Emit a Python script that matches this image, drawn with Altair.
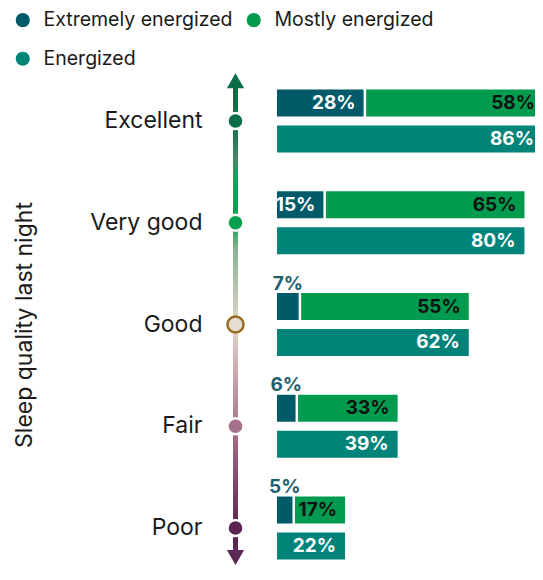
import altair as alt
import pandas as pd

categories = ["Excellent", "Very good", "Good", "Fair", "Poor"]
extremely = [28, 15, 7, 6, 5]
mostly = [58, 65, 55, 33, 17]
energized = [86, 80, 62, 39, 22]
series = ["Extremely energized", "Mostly energized", "Energized"]
series_colors = ["#005A68", "#009B4E", "#00847A"]

dot_fill = ["#0B6E46", "#08A04F", "#E6DCD2", "#A8718B", "#5D2350"]
dot_stroke = ["white", "white", "#9A6B22", "white", "white"]

rows = []
for c, e, m, t in zip(categories, extremely, mostly, energized):
    rows.append(dict(cat=c, series=series[0], row="top", value=e, start=0, end=e))
    rows.append(dict(cat=c, series=series[1], row="top", value=m, start=e, end=e + m))
    rows.append(dict(cat=c, series=series[2], row="bottom", value=t, start=0, end=t))
df = pd.DataFrame(rows)
df["label"] = df["value"].astype(str) + "%"
df["mid"] = (df["start"] + df["end"]) / 2

dots = pd.DataFrame({"cat": categories, "fill": dot_fill, "stroke": dot_stroke})
one = pd.DataFrame({"k": [0]})

FONT = "Inter"
W, H = 258, 493          # visible plot box (page clips here)
XR, YR = 266, 503        # scale ranges
LINE_X = -41.5

yscale = alt.Scale(domain=categories, paddingInner=0.381, paddingOuter=0.162, range=[0, YR])
yaxis = alt.Axis(domain=False, ticks=False, grid=False, labelPadding=75, labelFontSize=23,
                 labelColor="#1a1a1a", labelFont=FONT, labelLimit=300,
                 titleFontSize=23, titleFontWeight="normal", titleColor="#1a1a1a",
                 titleFont=FONT, titlePadding=53)
Y = alt.Y("cat:N", scale=yscale, axis=yaxis, title="Sleep quality last night")
YOFF = alt.YOffset("row:N", scale=alt.Scale(domain=["top", "bottom"], paddingInner=0.25, paddingOuter=0))
xs = alt.Scale(domain=[0, 86], nice=False, zero=True, range=[0, XR])

color = alt.Color("series:N", scale=alt.Scale(domain=series, range=series_colors),
                  legend=alt.Legend(orient="none", legendX=-264, legendY=-63, columns=2,
                                    direction="horizontal",
                                    symbolType="circle", symbolSize=200, symbolStrokeWidth=0,
                                    labelFontSize=19.5, labelFont=FONT, labelColor="#1a1a1a",
                                    columnPadding=11, rowPadding=18, labelOffset=11,
                                    title=None, padding=0, labelLimit=400))

base = alt.Chart(df)

def X(f):
    return alt.X(f, scale=xs, axis=None)

bars_main = base.transform_filter(alt.datum.series != series[1]).mark_bar().encode(
    x=X("start:Q"), x2="end:Q", y=Y, yOffset=YOFF, color=color)
bars_mostly = base.transform_filter(alt.datum.series == series[1]).mark_bar(xOffset=2.5).encode(
    x=X("start:Q"), x2="end:Q", y=Y, yOffset=YOFF, color=color)

txt = dict(fontSize=19, fontWeight="bold", font=FONT)
ext_in = base.transform_filter((alt.datum.series == series[0]) & (alt.datum.value >= 10)).mark_text(
    align="right", baseline="middle", dx=-8, color="white", **txt).encode(
    x=X("end:Q"), y=Y, yOffset=YOFF, text="label:N")
ext_above = base.transform_filter((alt.datum.series == series[0]) & (alt.datum.value < 10)).mark_text(
    align="center", baseline="bottom", dy=-13, color="#1D5F6E", **txt).encode(
    x=X("mid:Q"), y=Y, yOffset=YOFF, text="label:N")
mostly_txt = base.transform_filter(alt.datum.series == series[1]).mark_text(
    align="right", baseline="middle", dx=-8, color="#111111", **txt).encode(
    x=X("end:Q"), y=Y, yOffset=YOFF, text="label:N")
en_txt = base.transform_filter(alt.datum.series == series[2]).mark_text(
    align="right", baseline="middle", dx=-9, color="white", **txt).encode(
    x=X("end:Q"), y=Y, yOffset=YOFF, text="label:N")

grad = alt.Gradient(gradient="linear", x1=0, y1=0, x2=0, y2=1, stops=[
    alt.GradientStop(offset=0.0, color="#0B6E46"),
    alt.GradientStop(offset=0.081, color="#0B6E46"),
    alt.GradientStop(offset=0.163, color="#4A8868"),
    alt.GradientStop(offset=0.201, color="#14A259"),
    alt.GradientStop(offset=0.294, color="#08A04F"),
    alt.GradientStop(offset=0.350, color="#86B28F"),
    alt.GradientStop(offset=0.513, color="#E4D7CB"),
    alt.GradientStop(offset=0.735, color="#A8718B"),
    alt.GradientStop(offset=0.943, color="#5D2350"),
    alt.GradientStop(offset=1.0, color="#5B2A54"),
])
line = alt.Chart(one).mark_rect(fill=grad).encode(
    x=alt.value(LINE_X - 2.5), x2=alt.value(LINE_X + 2.5), y=alt.value(10), y2=alt.value(482))
arrow_up = alt.Chart(one).mark_point(shape="triangle-up", filled=True, size=300, opacity=1,
                                     color="#0B6E46").encode(x=alt.value(LINE_X), y=alt.value(7.7))
arrow_dn = alt.Chart(one).mark_point(shape="triangle-down", filled=True, size=300, opacity=1,
                                     color="#5B2A54").encode(x=alt.value(LINE_X), y=alt.value(484.6))
dot_layer = alt.Chart(dots).mark_point(shape="circle", filled=True, size=260, strokeWidth=2.5,
                                       opacity=1).encode(
    x=alt.value(LINE_X), y=Y,
    fill=alt.Fill("fill:N", scale=None), stroke=alt.Stroke("stroke:N", scale=None))

chart = alt.layer(line, arrow_up, arrow_dn, dot_layer, bars_main, bars_mostly,
                  ext_in, ext_above, mostly_txt, en_txt).properties(
    width=W, height=H, autosize="none",
    padding={"left": 269, "top": 65, "right": 0, "bottom": 0}
).configure(font=FONT).configure_view(strokeWidth=0, stroke=None).configure_axis(
    grid=False, domain=False, ticks=False)

chart.save("out.html", embed_options={"renderer": "svg", "actions": False})
